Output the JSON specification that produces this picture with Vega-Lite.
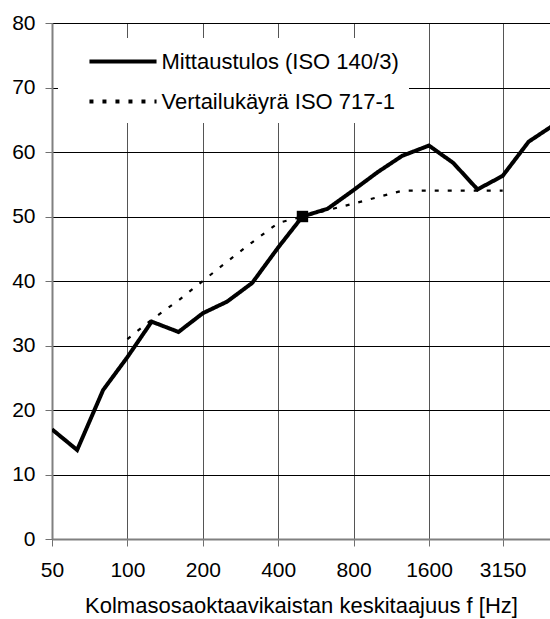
{
  "$schema": "https://vega.github.io/schema/vega-lite/v6.json",
  "width": 498,
  "height": 516,
  "autosize": {"type": "none"},
  "padding": {"left": 52, "top": 23, "right": 0, "bottom": 80},
  "background": "white",
  "config": {"view": {"stroke": null}, "font": "Liberation Sans"},
  "datasets": {
    "measured": [
      {"f": 50, "v": 17.0, "series": "Mittaustulos (ISO 140/3)"},
      {"f": 63, "v": 13.8, "series": "Mittaustulos (ISO 140/3)"},
      {"f": 80, "v": 23.1, "series": "Mittaustulos (ISO 140/3)"},
      {"f": 100, "v": 28.2, "series": "Mittaustulos (ISO 140/3)"},
      {"f": 125, "v": 33.7, "series": "Mittaustulos (ISO 140/3)"},
      {"f": 160, "v": 32.1, "series": "Mittaustulos (ISO 140/3)"},
      {"f": 200, "v": 35.0, "series": "Mittaustulos (ISO 140/3)"},
      {"f": 250, "v": 36.8, "series": "Mittaustulos (ISO 140/3)"},
      {"f": 315, "v": 39.7, "series": "Mittaustulos (ISO 140/3)"},
      {"f": 400, "v": 45.2, "series": "Mittaustulos (ISO 140/3)"},
      {"f": 500, "v": 50.0, "series": "Mittaustulos (ISO 140/3)"},
      {"f": 630, "v": 51.2, "series": "Mittaustulos (ISO 140/3)"},
      {"f": 800, "v": 54.1, "series": "Mittaustulos (ISO 140/3)"},
      {"f": 1000, "v": 56.9, "series": "Mittaustulos (ISO 140/3)"},
      {"f": 1250, "v": 59.4, "series": "Mittaustulos (ISO 140/3)"},
      {"f": 1600, "v": 61.0, "series": "Mittaustulos (ISO 140/3)"},
      {"f": 2000, "v": 58.3, "series": "Mittaustulos (ISO 140/3)"},
      {"f": 2500, "v": 54.2, "series": "Mittaustulos (ISO 140/3)"},
      {"f": 3150, "v": 56.3, "series": "Mittaustulos (ISO 140/3)"},
      {"f": 4000, "v": 61.6, "series": "Mittaustulos (ISO 140/3)"},
      {"f": 5000, "v": 64.1, "series": "Mittaustulos (ISO 140/3)"}
    ],
    "reference": [
      {"f": 100, "v": 31, "series": "Vertailukäyrä ISO 717-1"},
      {"f": 125, "v": 34, "series": "Vertailukäyrä ISO 717-1"},
      {"f": 160, "v": 37, "series": "Vertailukäyrä ISO 717-1"},
      {"f": 200, "v": 40, "series": "Vertailukäyrä ISO 717-1"},
      {"f": 250, "v": 43, "series": "Vertailukäyrä ISO 717-1"},
      {"f": 315, "v": 46, "series": "Vertailukäyrä ISO 717-1"},
      {"f": 400, "v": 49, "series": "Vertailukäyrä ISO 717-1"},
      {"f": 500, "v": 50, "series": "Vertailukäyrä ISO 717-1"},
      {"f": 630, "v": 51, "series": "Vertailukäyrä ISO 717-1"},
      {"f": 800, "v": 52, "series": "Vertailukäyrä ISO 717-1"},
      {"f": 1000, "v": 53, "series": "Vertailukäyrä ISO 717-1"},
      {"f": 1250, "v": 54, "series": "Vertailukäyrä ISO 717-1"},
      {"f": 1600, "v": 54, "series": "Vertailukäyrä ISO 717-1"},
      {"f": 2000, "v": 54, "series": "Vertailukäyrä ISO 717-1"},
      {"f": 2500, "v": 54, "series": "Vertailukäyrä ISO 717-1"},
      {"f": 3150, "v": 54, "series": "Vertailukäyrä ISO 717-1"}
    ],
    "marker": [{"f": 500, "v": 50}]
  },
  "encoding": {
    "x": {
      "field": "f",
      "type": "quantitative",
      "scale": {"type": "log", "domain": [50, 4867], "nice": false},
      "axis": {
        "values": [50, 100, 200, 400, 800, 1600, 3150],
        "format": "d",
        "title": "Kolmasosaoktaavikaistan keskitaajuus f [Hz]",
        "titleFont": "Liberation Sans",
        "titleFontSize": 22,
        "titleFontWeight": "normal",
        "titleColor": "black",
        "titlePadding": 15,
        "labelFont": "Liberation Sans",
        "labelFontSize": 21,
        "labelColor": "black",
        "labelPadding": 13,
        "labelFlush": false,
        "labelOverlap": false,
        "ticks": true,
        "tickSize": 7,
        "tickColor": "#707070",
        "domainColor": "#808080",
        "domainWidth": 2,
        "gridColor": "#555555",
        "gridWidth": 1
      }
    },
    "y": {
      "field": "v",
      "type": "quantitative",
      "scale": {"domain": [0, 80], "nice": false},
      "axis": {
        "values": [0, 10, 20, 30, 40, 50, 60, 70, 80],
        "title": null,
        "labelFont": "Liberation Sans",
        "labelFontSize": 21,
        "labelColor": "black",
        "labelPadding": 10,
        "labelFlush": false,
        "ticks": true,
        "tickSize": 7,
        "tickColor": "#707070",
        "domainColor": "#808080",
        "domainWidth": 2,
        "gridColor": "black",
        "gridWidth": 1
      }
    }
  },
  "layer": [
    {
      "data": {"name": "reference"},
      "mark": {"type": "line", "clip": true, "color": "black", "strokeWidth": 2.2},
      "encoding": {
        "strokeDash": {
          "field": "series",
          "type": "nominal",
          "scale": {"domain": ["Mittaustulos (ISO 140/3)", "Vertailukäyrä ISO 717-1"], "range": [[1, 0], [4, 9]]},
          "legend": {
            "title": null,
            "orient": "none",
            "legendX": 6,
            "legendY": 15,
            "fillColor": "white",
            "padding": 10,
            "symbolType": "M-3,0H3",
            "symbolSize": 500,
            "symbolStrokeWidth": 4,
            "symbolStrokeColor": "black",
            "symbolOffset": 41.5,
            "labelOffset": 25,
            "labelFont": "Liberation Sans",
            "labelFontSize": 22,
            "labelColor": "black",
            "labelLimit": 400,
            "rowPadding": 15
          }
        }
      }
    },
    {
      "data": {"name": "measured"},
      "mark": {"type": "line", "clip": true, "color": "black", "strokeWidth": 4},
      "encoding": {
        "strokeDash": {"field": "series", "type": "nominal"}
      }
    },
    {
      "data": {"name": "marker"},
      "mark": {"type": "point", "shape": "square", "filled": true, "color": "black", "size": 130, "opacity": 1}
    }
  ]
}
